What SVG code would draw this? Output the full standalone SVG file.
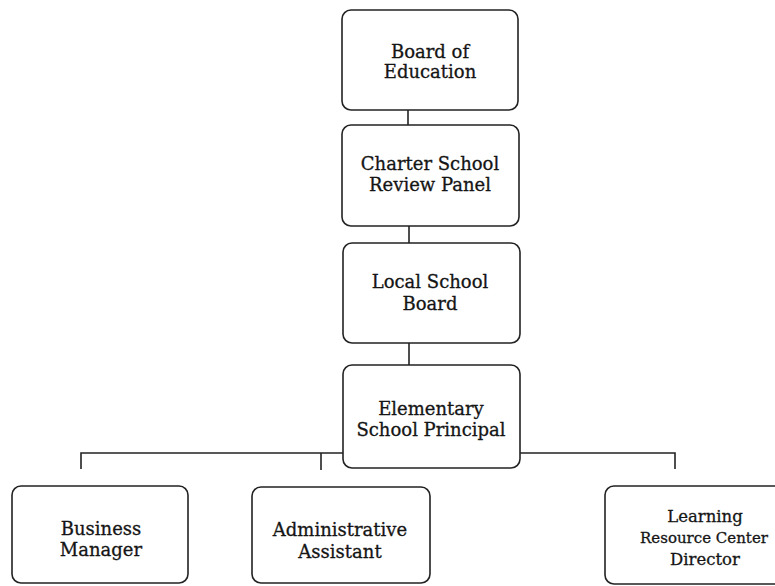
<svg xmlns="http://www.w3.org/2000/svg" width="775" height="586" viewBox="0 0 775 586">
<style>
.box{fill:#fff;stroke:#222;stroke-width:1.6}
.ln{fill:none;stroke:#222;stroke-width:1.6}
text{font-family:"DejaVu Serif","Liberation Serif",serif;font-size:18px;fill:#151515;stroke:#151515;stroke-width:0.3;text-anchor:middle}
.sm{font-size:16.5px}
.xs{font-size:15px}
</style>
<rect width="775" height="586" fill="#fff"/>
<g id="connectors">
<line class="ln" x1="408" y1="110" x2="408" y2="125"/>
<line class="ln" x1="409" y1="226" x2="409" y2="243"/>
<line class="ln" x1="409" y1="343" x2="409" y2="365"/>
<polyline class="ln" points="81,469 81,453 343,453"/>
<line class="ln" x1="321" y1="453" x2="321" y2="470"/>
<polyline class="ln" points="520,453 675,453 675,469"/>
</g>
<g id="board">
<rect class="box" x="342" y="10" width="176" height="100" rx="9"/>
<text x="430" y="58">Board of</text>
<text x="430" y="78">Education</text>
</g>
<g id="charter">
<rect class="box" x="342" y="125" width="177" height="101" rx="9"/>
<text x="430" y="170">Charter School</text>
<text x="430" y="191">Review Panel</text>
</g>
<g id="local">
<rect class="box" x="343" y="243" width="177" height="100" rx="9"/>
<text x="430" y="288">Local School</text>
<text x="430" y="310">Board</text>
</g>
<g id="principal">
<rect class="box" x="343" y="365" width="177" height="103" rx="9"/>
<text x="431" y="415">Elementary</text>
<text x="431" y="436">School Principal</text>
</g>
<g id="business">
<rect class="box" x="12" y="486" width="176" height="97" rx="9"/>
<text x="101" y="535">Business</text>
<text x="101" y="556">Manager</text>
</g>
<g id="admin">
<rect class="box" x="252" y="487" width="178" height="96" rx="9"/>
<text x="340" y="536">Administrative</text>
<text x="340" y="558">Assistant</text>
</g>
<g id="lrc">
<rect class="box" x="605" y="486" width="185" height="98" rx="9"/>
<text class="sm" x="705" y="522">Learning</text>
<text class="xs" x="704" y="543">Resource Center</text>
<text class="sm" x="705" y="565">Director</text>
</g>
</svg>
